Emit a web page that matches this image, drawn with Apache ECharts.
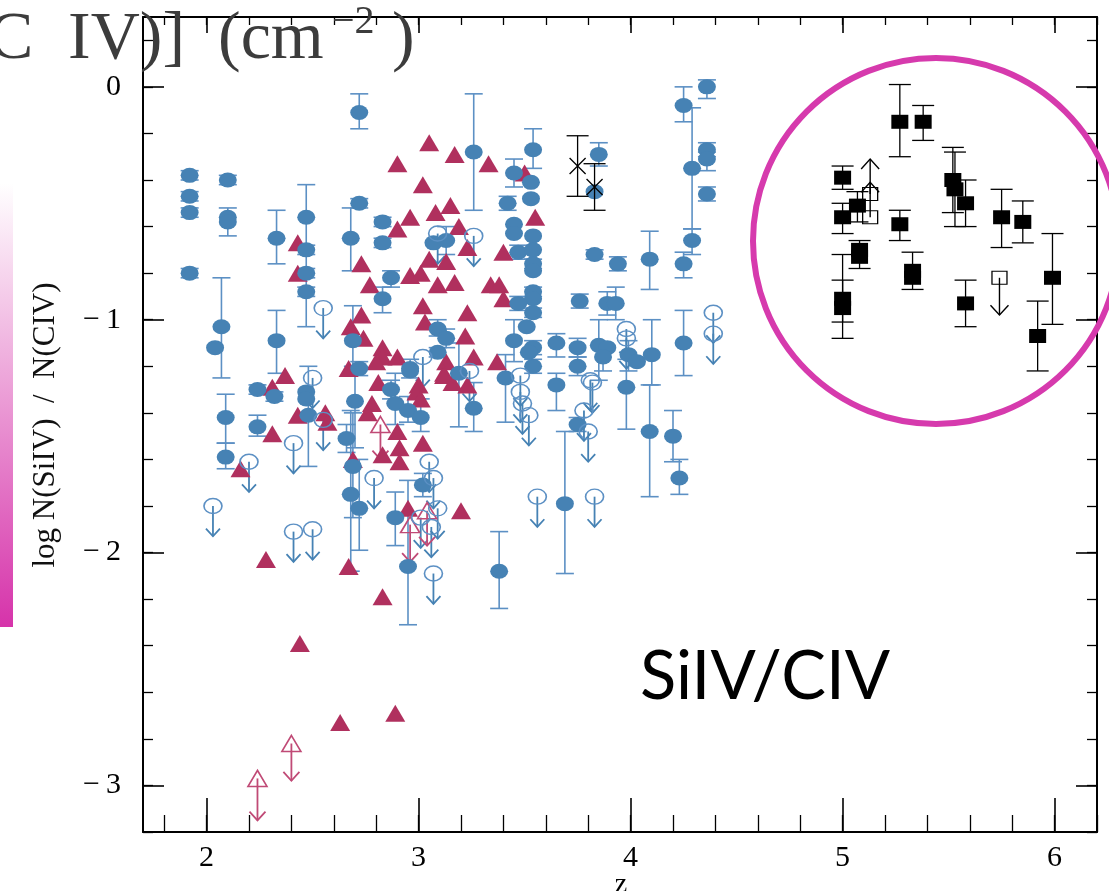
<!DOCTYPE html>
<html>
<head>
<meta charset="utf-8">
<script src="https://cdn.jsdelivr.net/npm/echarts@6/dist/echarts.min.js"></script>
<style>
  html, body { margin: 0; padding: 0; background: #fff; }
  #chart { width: 1109px; height: 891px; }
</style>
</head>
<body>
<div id="chart"></div>
<script>
// ---- data (z, log N(SiIV)/N(CIV), error top, error bottom) ----
var blueDetections = [
  [1.92,-0.38,-0.36,-0.40],[1.92,-0.47,-0.45,-0.49],[1.92,-0.54,-0.52,-0.56],[1.92,-0.80,-0.78,-0.82],
  [2.10,-0.40,-0.38,-0.42],[2.10,-0.56,-0.52,-0.64],[2.10,-0.58,null,null],[2.07,-1.03,-0.82,-1.25],
  [2.04,-1.12,null,null],[2.33,-0.65,-0.53,-0.76],[2.33,-1.09,-0.96,-1.23],[2.47,-0.56,-0.42,-1.03],
  [2.47,-0.70,-0.68,-0.72],[2.47,-0.80,-0.78,-0.82],[2.47,-0.88,-0.86,-0.90],[2.68,-0.65,-0.52,-0.79],
  [2.72,-0.11,-0.03,-0.18],[2.72,-0.50,-0.48,-0.52],[2.83,-0.58,-0.56,-0.60],[2.83,-0.67,-0.65,-0.69],
  [2.87,-0.82,-0.79,-0.86],[2.83,-0.91,-0.86,-0.97],[3.07,-0.67,null,null],[3.13,-0.66,-0.60,-0.72],
  [3.09,-1.04,-1.00,-1.07],[3.13,-1.08,-1.04,-1.12],[3.09,-1.14,-1.12,-1.16],[2.69,-1.09,-0.94,-1.20],
  [2.72,-1.21,-1.18,-1.24],[2.96,-1.21,-1.17,-1.25],[3.26,-0.28,-0.03,-0.53],[3.45,-0.37,-0.31,-0.43],
  [3.54,-0.27,-0.18,-0.35],[3.53,-0.41,null,null],[3.53,-0.48,null,null],[3.42,-0.50,-0.47,-0.53],
  [3.45,-0.59,null,null],[3.45,-0.63,null,null],[3.54,-0.64,null,null],[3.47,-0.71,-0.68,-0.74],
  [3.54,-0.70,null,null],[3.54,-0.76,-0.74,-0.78],[3.54,-0.79,null,null],[3.54,-0.88,-0.86,-0.90],
  [3.54,-0.91,null,null],[3.47,-0.93,-0.90,-0.96],[3.54,-0.97,-0.95,-0.99],[3.51,-1.03,null,null],
  [3.45,-1.09,-1.00,-1.18],[3.54,-1.12,-1.09,-1.15],[3.52,-1.14,null,null],[3.54,-1.20,-1.17,-1.23],
  [3.65,-1.10,-1.06,-1.16],[3.75,-1.12,-1.08,-1.16],[3.75,-1.20,-1.16,-1.24],[3.85,-0.29,-0.24,-0.34],
  [3.83,-0.45,null,null],[3.83,-0.72,-0.70,-0.74],[3.94,-0.76,-0.73,-0.79],[4.09,-0.74,-0.62,-0.87],
  [3.76,-0.92,-0.89,-0.95],[3.89,-0.93,-0.88,-0.98],[3.93,-0.93,-0.86,-1.00],[3.85,-1.11,-1.00,-1.26],
  [3.89,-1.12,null,null],[3.87,-1.16,-1.10,-1.22],[3.99,-1.15,-1.09,-1.22],[4.03,-1.18,null,null],
  [4.10,-1.15,-1.00,-1.28],[4.25,-1.10,-0.96,-1.24],[4.25,-0.08,0.00,-0.15],[4.36,0.00,0.03,-0.05],
  [4.29,-0.35,-0.09,-0.61],[4.36,-0.27,-0.24,-0.30],[4.36,-0.31,-0.28,-0.36],[4.36,-0.46,-0.43,-0.49],
  [4.29,-0.66,-0.61,-0.72],[4.25,-0.76,-0.71,-0.82],[3.19,-1.23,-1.10,-1.46],[3.26,-1.38,-1.27,-1.48],
  [3.41,-1.25,-1.15,-1.44],[3.65,-1.28,-1.23,-1.39],[3.98,-1.29,-1.17,-1.47],[3.75,-1.45,-1.42,-1.48],
  [3.69,-1.79,-1.48,-2.09],[4.09,-1.48,-1.28,-1.76],[4.20,-1.50,-1.39,-1.61],[4.23,-1.68,-1.60,-1.75],
  [3.38,-2.08,-1.91,-2.24],[2.09,-1.42,-1.32,-1.53],[2.09,-1.59,-1.53,-1.64],[2.24,-1.30,-1.28,-1.32],
  [2.32,-1.33,-1.31,-1.35],[2.24,-1.46,-1.41,-1.50],[2.47,-1.31,null,null],[2.47,-1.34,null,null],
  [2.48,-1.41,-1.20,-1.63],[2.70,-1.35,-1.20,-1.55],[2.66,-1.51,-1.45,-1.57],[2.69,-1.63,-1.40,-1.85],
  [2.68,-1.75,-1.39,-2.08],[2.72,-1.81,-1.60,-1.99],[2.87,-1.30,-1.26,-1.34],[2.89,-1.36,-1.23,-1.45],
  [2.95,-1.39,-1.33,-1.44],[3.01,-1.42,-1.34,-1.48],[2.96,-1.22,null,null],[3.02,-1.71,-1.66,-1.76],
  [2.89,-1.85,-1.74,-1.97],[2.95,-2.06,-1.69,-2.31]
];

// upper limits (open circles with arrows)
var blueUpperLimits = [
  [2.03,-1.80],[2.20,-1.61],[2.41,-1.53],[2.41,-1.91],[2.50,-1.90],[2.50,-1.25],[2.55,-0.95],
  [2.55,-1.43],[2.79,-1.68],[3.05,-1.61],[3.07,-1.68],[3.09,-1.81],[3.01,-1.85],[3.06,-1.89],
  [3.07,-2.09],[3.09,-0.63],[3.26,-0.64],[3.02,-1.16],[3.24,-1.22],[3.82,-1.27],[3.78,-1.39],
  [3.80,-1.48],[3.56,-1.76],[3.83,-1.76],[3.48,-1.31],[3.49,-1.36],[3.52,-1.41],[3.48,-1.24],
  [4.39,-0.97],[4.39,-1.06],[3.98,-1.04],[3.98,-1.08],[3.81,-1.26]
];
var blueArrowLength = 0.13;

var redTriangles = [
  [3.05,-0.24],[3.17,-0.29],[2.90,-0.33],[3.33,-0.33],[3.02,-0.42],[2.96,-0.56],[3.08,-0.54],
  [3.15,-0.51],[2.90,-0.61],[3.19,-0.60],[3.23,-0.69],[3.05,-0.74],[3.13,-0.75],[2.73,-0.76],
  [2.77,-0.85],[2.96,-0.81],[3.01,-0.80],[3.09,-0.85],[3.17,-0.84],[3.34,-0.85],[3.38,-0.85],
  [3.40,-0.91],[3.55,-0.56],[3.50,-0.37],[3.40,-0.71],[2.43,-0.67],[2.43,-0.80],[3.02,-0.94],
  [3.03,-1.01],[3.23,-0.97],[2.73,-0.98],[2.68,-1.03],[2.74,-1.08],[3.22,-1.07],[2.83,-1.12],
  [2.83,-1.16],[2.90,-1.16],[2.80,-1.18],[3.26,-1.16],[3.13,-1.18],[3.12,-1.23],[3.37,-1.18],
  [2.81,-1.27],[3.00,-1.28],[3.16,-1.27],[3.23,-1.28],[2.37,-1.24],[2.31,-1.29],[2.31,-1.49],
  [2.16,-1.64],[2.43,-1.41],[2.56,-1.40],[2.57,-1.44],[2.67,-1.21],[2.78,-1.36],[2.76,-1.40],
  [2.90,-1.48],[2.91,-1.55],[2.91,-1.61],[2.83,-1.58],[2.69,-1.60],[3.02,-1.53],[2.99,-1.31],
  [3.01,-1.34],[3.12,-1.24],[2.95,-1.81],[3.20,-1.82],[2.67,-2.06],[2.28,-2.03],[2.83,-2.19],
  [2.44,-2.39],[2.63,-2.73],[2.89,-2.69]
];

// open triangles: z, value, arrow end
var redLimits = [
  [2.24,-2.97,-3.15],[2.40,-2.82,-2.98],[2.82,-1.45,-1.60],[2.96,-1.88,-2.04],[3.04,-1.82,-1.97]
];

var blackCrosses = [
  [3.75,-0.34,-0.21,-0.47],[3.83,-0.43,-0.33,-0.53]
];

var blackSquares = [
  [5.00,-0.39,-0.34,-0.44],[5.00,-0.56,-0.50,-0.63],[5.07,-0.51,-0.45,-0.58],[5.08,-0.70,-0.66,-0.78],
  [5.08,-0.73,null,null],[5.00,-0.91,-0.72,-1.08],[5.00,-0.95,-0.83,-1.01],[5.27,-0.15,0.01,-0.30],
  [5.38,-0.15,-0.08,-0.23],[5.27,-0.59,-0.53,-0.66],[5.33,-0.79,-0.71,-0.87],[5.33,-0.82,null,null],
  [5.52,-0.40,-0.26,-0.54],[5.53,-0.44,-0.28,-0.60],[5.58,-0.50,-0.40,-0.60],[5.58,-0.93,-0.83,-1.03],
  [5.75,-0.56,-0.44,-0.69],[5.85,-0.58,-0.49,-0.67],[5.99,-0.82,-0.63,-1.02],[5.92,-1.07,-0.92,-1.22]
];

// open squares: z, value, arrow end
var blackLimits = [
  [5.13,-0.56,-0.41],[5.13,-0.46,-0.31],[5.74,-0.82,-0.98]
];

var xMajorTicks = [2, 3, 4, 5, 6];
var yMajorTicks = [-3, -2, -1, 0];
var xMinorTicks = [];
for (var t = 18; t <= 62; t += 2) xMinorTicks.push(t / 10);
var yMinorTicks = [];
for (var u = -32; u <= 2; u += 2) yMinorTicks.push(u / 10);

// ---- styles ----
var BLUE = '#4682b4';
var BLUE_BAR = '#5c90c4';
var RED = '#b0305e';
var RED_LIM = '#c04a76';
var SERIF = '"Liberation Serif", "DejaVu Serif", serif';

function withErrors(rows) {
  return rows.filter(function (r) { return r[2] !== null; })
    .map(function (r) { return [r[0], r[2], r[3]]; });
}

function errorBars(capW, color, lw) {
  return function (params, api) {
    var top = api.coord([api.value(0), api.value(1)]);
    var bot = api.coord([api.value(0), api.value(2)]);
    var x = top[0], h = capW / 2;
    var st = { stroke: color, lineWidth: lw };
    return {
      type: 'group',
      children: [
        { type: 'line', shape: { x1: x, y1: top[1], x2: x, y2: bot[1] }, style: st },
        { type: 'line', shape: { x1: x - h, y1: top[1], x2: x + h, y2: top[1] }, style: st },
        { type: 'line', shape: { x1: x - h, y1: bot[1], x2: x + h, y2: bot[1] }, style: st }
      ]
    };
  };
}

function arrows(color, lw, head) {
  return function (params, api) {
    var p0 = api.coord([api.value(0), api.value(1)]);
    var p1 = api.coord([api.value(0), api.value(2)]);
    var dir = p1[1] > p0[1] ? 1 : -1;
    var st = { stroke: color, lineWidth: lw, fill: null };
    return {
      type: 'group',
      children: [
        { type: 'line', shape: { x1: p0[0], y1: p0[1], x2: p1[0], y2: p1[1] }, style: st },
        { type: 'polyline', shape: { points: [[p1[0] - head, p1[1] - dir * head * 1.1], [p1[0], p1[1]], [p1[0] + head, p1[1] - dir * head * 1.1]] }, style: st }
      ]
    };
  };
}

function axisPair(pos, majors, minors, majLen, minLen, showLabel, isY) {
  var base = {
    type: 'value',
    position: pos,
    min: isY ? -3.2 : 1.7,
    max: isY ? 0.3 : 6.2,
    splitLine: { show: false }
  };
  var major = Object.assign({}, base, {
    axisLine: { show: true, onZero: false, lineStyle: { color: '#000', width: 2 } },
    axisTick: { show: true, inside: true, length: majLen, customValues: majors, lineStyle: { color: '#000', width: 1.6 } },
    axisLabel: {
      show: showLabel,
      customValues: majors,
      margin: isY ? 22 : 11,
      color: '#000',
      fontFamily: SERIF,
      fontSize: 30,
      formatter: function (v) { return v < 0 ? '\u2212\u2009' + Math.abs(v) : String(v); }
    }
  });
  var minor = Object.assign({}, base, {
    axisLine: { show: false, onZero: false },
    axisTick: { show: true, inside: true, length: minLen, customValues: minors, lineStyle: { color: '#000', width: 1.3 } },
    axisLabel: { show: false }
  });
  return [major, minor];
}

var chart = echarts.init(document.getElementById('chart'), null, { renderer: 'canvas' });

var option = {
  backgroundColor: '#fff',
  animation: false,
  grid: { left: 143, right: 12, top: 17, bottom: 59 },
  xAxis: axisPair('bottom', xMajorTicks, xMinorTicks, 34, 17, true, false)
    .concat(axisPair('top', xMajorTicks, xMinorTicks, 16, 8, false, false)),
  yAxis: axisPair('left', yMajorTicks, yMinorTicks, 21, 10, true, true)
    .concat(axisPair('right', yMajorTicks, yMinorTicks, 21, 10, false, true)),
  graphic: [
    {
      type: 'rect', left: 0, top: 183, z: 10,
      shape: { width: 13, height: 444 },
      style: {
        fill: new echarts.graphic.LinearGradient(0, 0, 0, 1, [
          { offset: 0, color: '#ffffff' },
          { offset: 1, color: '#d633aa' }
        ])
      }
    },
    { type: 'text', x: -12, y: 40, z: 10, style: { text: 'C', font: '68px ' + SERIF, fill: '#3c3c3c', verticalAlign: 'middle' } },
    { type: 'text', x: 68, y: 40, z: 10, style: { text: 'IV)]', font: '68px ' + SERIF, fill: '#3c3c3c', verticalAlign: 'middle' } },
    { type: 'text', x: 218, y: 40, z: 10, style: { text: '(cm', font: '68px ' + SERIF, fill: '#3c3c3c', verticalAlign: 'middle' } },
    { type: 'text', x: 332, y: 22, z: 10, style: { text: '\u22122', font: '40px ' + SERIF, fill: '#3c3c3c', verticalAlign: 'middle' } },
    { type: 'text', x: 392, y: 40, z: 10, style: { text: ')', font: '68px ' + SERIF, fill: '#3c3c3c', verticalAlign: 'middle' } },
    {
      type: 'text', x: 46, y: 425, rotation: Math.PI / 2, z: 10,
      style: { text: 'log N(SiIV)  /  N(CIV)', font: '31px ' + SERIF, fill: '#111', align: 'center', verticalAlign: 'middle' }
    },
    { type: 'text', x: 621, y: 885, z: 10, style: { text: 'z', font: '28px ' + SERIF, fill: '#000', align: 'center', verticalAlign: 'middle' } },
    { type: 'text', x: 640, y: 677, z: 10, style: { text: 'SiIV/CIV', font: '67px Lato, "Open Sans", sans-serif', fill: '#000', verticalAlign: 'middle' } },
    {
      type: 'circle', z: 10,
      shape: { cx: 936, cy: 241, r: 183 },
      style: { fill: null, stroke: '#d63aad', lineWidth: 6 }
    }
  ],
  series: [
    {
      type: 'custom', name: 'blue err', xAxisIndex: 0, yAxisIndex: 0,
      renderItem: errorBars(18, BLUE_BAR, 1.6),
      data: withErrors(blueDetections), z: 2
    },
    {
      type: 'custom', name: 'blue limits', xAxisIndex: 0, yAxisIndex: 0,
      renderItem: arrows(BLUE, 1.8, 7),
      data: blueUpperLimits.map(function (r) { return [r[0], r[1], r[1] - blueArrowLength]; }), z: 2
    },
    {
      type: 'scatter', name: 'red', xAxisIndex: 0, yAxisIndex: 0,
      symbol: 'triangle', symbolSize: [20, 17],
      itemStyle: { color: RED, opacity: 1 },
      data: redTriangles, z: 3
    },
    {
      type: 'custom', name: 'red limits', xAxisIndex: 0, yAxisIndex: 0,
      renderItem: arrows(RED_LIM, 1.8, 8),
      data: redLimits, z: 3
    },
    {
      type: 'scatter', name: 'red open', xAxisIndex: 0, yAxisIndex: 0,
      symbol: 'triangle', symbolSize: [19, 16],
      itemStyle: { color: 'rgba(0,0,0,0)', borderColor: RED_LIM, borderWidth: 1.6, opacity: 1 },
      data: redLimits.map(function (r) { return [r[0], r[1]]; }), z: 4
    },
    {
      type: 'scatter', name: 'blue', xAxisIndex: 0, yAxisIndex: 0,
      symbol: 'circle', symbolSize: [18, 15],
      itemStyle: { color: BLUE, opacity: 1 },
      data: blueDetections.map(function (r) { return [r[0], r[1]]; }), z: 5
    },
    {
      type: 'scatter', name: 'blue open', xAxisIndex: 0, yAxisIndex: 0,
      symbol: 'circle', symbolSize: [18, 15],
      itemStyle: { color: 'rgba(0,0,0,0)', borderColor: BLUE_BAR, borderWidth: 1.5, opacity: 1 },
      data: blueUpperLimits, z: 5
    },
    {
      type: 'custom', name: 'black err', xAxisIndex: 0, yAxisIndex: 0,
      renderItem: errorBars(22, '#000', 1.3),
      data: withErrors(blackSquares).concat(withErrors(blackCrosses)), z: 6
    },
    {
      type: 'scatter', name: 'black', xAxisIndex: 0, yAxisIndex: 0,
      symbol: 'rect', symbolSize: [17, 14],
      itemStyle: { color: '#000', opacity: 1 },
      data: blackSquares.map(function (r) { return [r[0], r[1]]; }), z: 7
    },
    {
      type: 'scatter', name: 'black cross', xAxisIndex: 0, yAxisIndex: 0,
      symbol: 'path://M0,0L10,10M10,0L0,10', symbolSize: 16,
      itemStyle: { color: 'rgba(0,0,0,0)', borderColor: '#000', borderWidth: 1.3, opacity: 1 },
      data: blackCrosses.map(function (r) { return [r[0], r[1]]; }), z: 7
    },
    {
      type: 'custom', name: 'black limits', xAxisIndex: 0, yAxisIndex: 0,
      renderItem: arrows('#000', 1.4, 9),
      data: blackLimits, z: 7
    },
    {
      type: 'scatter', name: 'black open', xAxisIndex: 0, yAxisIndex: 0,
      symbol: 'rect', symbolSize: [15, 13],
      itemStyle: { color: 'rgba(0,0,0,0)', borderColor: '#000', borderWidth: 1.2, opacity: 1 },
      data: blackLimits.map(function (r) { return [r[0], r[1]]; }), z: 7
    }
  ]
};

chart.setOption(option);
</script>
</body>
</html>
